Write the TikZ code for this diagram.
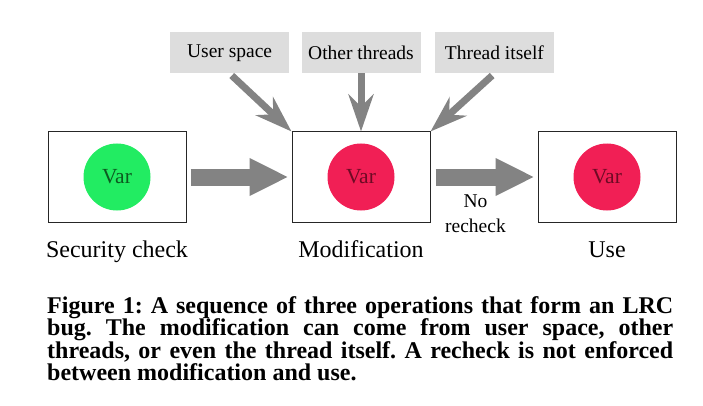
\documentclass[tikz,border=0pt]{standalone}
\usepackage{fontspec}
\setmainfont{Liberation Serif}
\usetikzlibrary{positioning, arrows.meta}

\definecolor{safegreen}{HTML}{22EC62}
\definecolor{safetext}{HTML}{0C5A20}
\definecolor{taintred}{HTML}{F11F55}
\definecolor{tainttext}{HTML}{6E0A24}
\definecolor{sourcegray}{HTML}{DDDDDD}
\definecolor{arrowgray}{HTML}{838383}

\begin{document}
\frenchspacing
\begin{tikzpicture}[
	x=1pt, y=-1pt,
	nodes = {
		align = center
	},
	op/.style={
		rectangle,
		draw=black!85,
		line width=1pt,
		minimum width=138pt,
		minimum height=90pt
	},
	var/.style={
		circle,
		minimum size=67pt,
		inner sep=0pt,
		font=\fontsize{21.5}{24}\selectfont
	},
	source/.style={
		rectangle,
		fill=sourcegray,
		minimum width=119pt,
		minimum height=41pt,
		font=\fontsize{19.5}{22}\selectfont
	},
	oplabel/.style={
		font=\fontsize{24}{28}\selectfont,
		text height=16pt,
		text depth=5pt
	},
	flow/.style={
		draw=arrowgray,
		line width=17pt,
		-{Triangle[length=39pt,width=35pt]}
	},
	feed/.style={
		draw=arrowgray,
		line width=7pt,
		-{Stealth[length=37pt,width=25pt,inset=12pt]}
	}
]
	\useasboundingbox (0,0) rectangle (703,406);

	\node[op] (sec_check) at (117,177) {};

	\node[op] (modif) [right=105pt of sec_check] {};

	\node[op] (use) [right=107pt of modif] {};

	\node[var, fill=safegreen, text=safetext] (var_check) at (sec_check) {Var};
	\node[var, fill=taintred, text=tainttext] (var_modif) at (modif) {Var};
	\node[var, fill=taintred, text=tainttext] (var_use) at (use) {Var};
	%%
	\node[oplabel] (check_label) [below=15pt of sec_check] {Security check};
	\node[oplabel] (modif_label) [below=15pt of modif] {Modification};
	\node[oplabel] (use_label) [below=15pt of use] {Use};
	%%
	\node[source] (other_threads) [above=58pt of modif] {Other threads};
	\node[source] (user_space) [left=12pt of other_threads] {User space};
	\node[source] (thread_itself) [right=14pt of other_threads] {Thread itself};

	\draw[flow, shorten <=4pt, shorten >=3pt] (sec_check) -- (modif);
	\draw[flow, shorten <=5pt, shorten >=3pt] (modif) --
		node[pos=0.42, below=9pt, inner sep=0pt,
			font=\fontsize{19.5}{25}\selectfont] (no_recheck) {No\\recheck} (use);

	\draw[feed, shorten <=3pt] (user_space.south) -- (modif.north west);
	\draw[feed] (other_threads) -- (modif);
	\draw[feed, shorten <=3pt] (thread_itself.south) -- (modif.north east);
	%%
	\node[anchor=north west, inner sep=0pt, text width=626pt, align=justify,
		font=\bfseries\fontsize{24}{22.3}\selectfont] (caption) at (47,296.4) {%
		Figure 1: A sequence of three operations that form an LRC\linebreak
		bug. The modification can come from user space, other\linebreak
		threads, or even the thread itself. A recheck is not enforced\linebreak
		between modification and use.};
\end{tikzpicture}
\end{document}
